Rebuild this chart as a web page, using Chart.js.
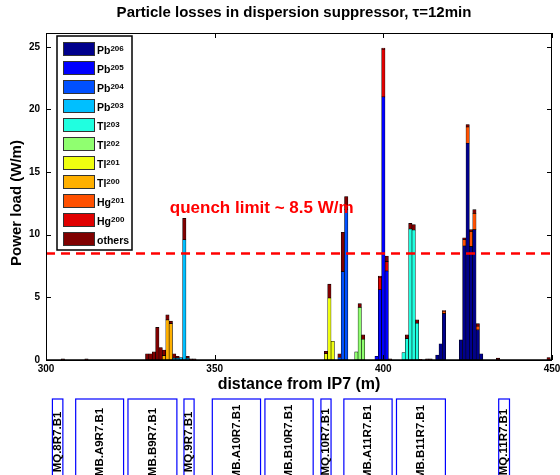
<!DOCTYPE html>
<html>
<head>
<meta charset="utf-8">
<script src="https://cdn.jsdelivr.net/npm/chart.js@4/dist/chart.umd.min.js"></script>
<style>
  html, body { margin: 0; padding: 0; background: #fff; }
  canvas { display: block; }
</style>
</head>
<body>
<canvas id="chart" width="560" height="475"></canvas>
<script>
const FONT = '"Liberation Sans", Arial, Helvetica, sans-serif';

// species (stack order bottom -> top)
const elements = ['Pb', 'Pb', 'Pb', 'Pb', 'Tl', 'Tl', 'Tl', 'Tl', 'Hg', 'Hg', 'others'];
const masses = ['206', '205', '204', '203', '203', '202', '201', '200', '201', '200', ''];
const colors = ['#00008c', '#0000ff', '#0050ff', '#00bfff', '#20ffe0', '#90ff70',
  '#f0ff10', '#ffb000', '#ff5000', '#e00000', '#800000'];

// loss per 1 m bin (W/m), bin centre in m from IP7
const pb206X = [416, 417, 418, 423, 424, 425, 426, 427, 428, 429];
const pb206Y = [0.4, 1.3, 3.7, 1.6, 9.1, 17.3, 9.05, 10.4, 2.4, 0.5];
const pb205X = [398, 399, 400, 401];
const pb205Y = [0.3, 5.6, 21.0, 7.1];
const pb204X = [387, 388, 389];
const pb204Y = [0.2, 7.05, 12.0];
const pb203X = [338, 339, 340, 341, 342];
const pb203Y = [0.15, 0.15, 0.2, 9.6, 0.15];
const tl203X = [406, 407, 408, 409, 410];
const tl203Y = [0.6, 1.7, 10.45, 10.37, 2.93];
const tl202X = [392, 393, 394];
const tl202Y = [0.65, 4.2, 1.65];
const tl201X = [383, 384, 385];
const tl201Y = [0.5, 4.95, 1.5];
const tl200X = [335, 336, 337];
const tl200Y = [0.35, 3.2, 2.9];
const hg201X = [418, 424, 425, 426, 427, 428];
const hg201Y = [0.2, 0.5, 1.3, 1.2, 1.3, 0.3];
const hg200X = [399, 400, 401];
const hg200Y = [1.0, 3.8, 0.75];
const othersX = [305, 312, 330, 331, 332, 333, 334, 335, 336, 337, 338, 339, 341, 342, 343, 344,
  383, 384, 387, 388, 389, 393, 394, 399, 400, 401, 402, 407, 408, 409, 410, 411, 413, 414,
  418, 424, 425, 426, 427, 428, 434, 449];
const othersY = [0.1, 0.1, 0.5, 0.5, 0.65, 2.6, 1.0, 0.45, 0.4, 0.2, 0.35, 0.15, 1.7, 0.15, 0.1, 0.1,
  0.2, 1.1, 0.3, 3.15, 1.05, 0.3, 0.35, 0.1, 0.1, 0.45, 0.1, 0.3, 0.45, 0.43, 0.27, 0.05, 0.1, 0.1,
  0.05, 0.15, 0.2, 0.15, 0.3, 0.2, 0.15, 0.2];

const seriesX = [pb206X, pb205X, pb204X, pb203X, tl203X, tl202X, tl201X, tl200X, hg201X, hg200X, othersX];
const seriesY = [pb206Y, pb205Y, pb204Y, pb203Y, tl203Y, tl202Y, tl201Y, tl200Y, hg201Y, hg200Y, othersY];

const xTicks = [300, 350, 400, 450];
const yTicks = [0, 5, 10, 15, 20, 25];
const quenchLimit = 8.5;

// lattice elements below the axis (m)
const magnetNames = ['MQ.8R7.B1', 'MB.A9R7.B1', 'MB.B9R7.B1', 'MQ.9R7.B1', 'MB.A10R7.B1',
  'MB.B10R7.B1', 'MQ.10R7.B1', 'MB.A11R7.B1', 'MB.B11R7.B1', 'MQ.11R7.B1'];
const magnetStart = [301.9, 308.8, 324.3, 340.9, 349.3, 364.9, 381.5, 388.3, 403.9, 434.2];
const magnetEnd = [305.0, 323.0, 338.8, 343.9, 363.6, 379.2, 384.5, 402.6, 418.4, 437.4];

const datasets = elements.map((el, i) => ({
  label: el + masses[i],
  element: el,
  mass: masses[i],
  data: seriesX[i].map((x, k) => ({ x: x, y: seriesY[i][k] })),
  backgroundColor: colors[i],
  borderColor: '#000',
  borderWidth: 0.6,
  borderSkipped: false,
  barPercentage: 1,
  categoryPercentage: 1
}));

const decor = {
  id: 'decor',
  beforeDraw(chart) {
    const ctx = chart.ctx;
    ctx.save();
    ctx.fillStyle = '#fff';
    ctx.fillRect(0, 0, chart.width, chart.height);
    ctx.restore();
  },
  afterDraw(chart) {
    const { ctx, chartArea: a, scales: { x, y } } = chart;
    ctx.save();

    // quench limit
    const yq = y.getPixelForValue(quenchLimit);
    ctx.strokeStyle = '#ff0000';
    ctx.lineWidth = 2.5;
    ctx.setLineDash([9, 6]);
    ctx.beginPath();
    ctx.moveTo(a.left, yq);
    ctx.lineTo(a.right, yq);
    ctx.stroke();
    ctx.setLineDash([]);

    ctx.fillStyle = '#ff0000';
    ctx.font = 'bold 17px ' + FONT;
    ctx.textBaseline = 'middle';
    ctx.textAlign = 'left';
    ctx.fillText('quench limit ~ 8.5 W/m', x.getPixelForValue(336.7), y.getPixelForValue(12.1));

    // frame + inward ticks
    ctx.strokeStyle = '#000';
    ctx.lineWidth = 1;
    ctx.strokeRect(a.left + 0.5, a.top + 0.5, a.right - a.left - 1, a.bottom - a.top);
    ctx.beginPath();
    xTicks.forEach(v => {
      const px = Math.round(x.getPixelForValue(v)) + 0.5;
      ctx.moveTo(px, a.bottom); ctx.lineTo(px, a.bottom - 5);
      ctx.moveTo(px, a.top); ctx.lineTo(px, a.top + 5);
    });
    yTicks.forEach(v => {
      const py = Math.round(y.getPixelForValue(v)) + 0.5;
      ctx.moveTo(a.left, py); ctx.lineTo(a.left + 5, py);
      ctx.moveTo(a.right, py); ctx.lineTo(a.right - 5, py);
    });
    ctx.stroke();
    ctx.lineWidth = 1.5;
    ctx.beginPath();
    ctx.moveTo(a.left, a.bottom);
    ctx.lineTo(a.right, a.bottom);
    ctx.stroke();

    // legend
    const lx = 57, ly = 36, pitch = 19;
    ctx.fillStyle = '#fff';
    ctx.fillRect(lx, ly, 75, 214);
    ctx.lineWidth = 1.5;
    ctx.strokeStyle = '#000';
    ctx.strokeRect(lx, ly, 75, 214);
    ctx.textBaseline = 'alphabetic';
    chart.data.datasets.forEach((ds, i) => {
      const yy = ly + 6 + i * pitch;
      ctx.fillStyle = ds.backgroundColor;
      ctx.fillRect(lx + 6, yy, 31, 13);
      ctx.lineWidth = 1;
      ctx.strokeStyle = '#333';
      ctx.strokeRect(lx + 6.5, yy + 0.5, 31, 13);
      ctx.fillStyle = '#000';
      ctx.font = 'bold 10.5px ' + FONT;
      ctx.fillText(ds.element, lx + 40, yy + 12);
      if (ds.mass) {
        const w = ctx.measureText(ds.element).width;
        ctx.font = 'bold 8px ' + FONT;
        ctx.fillText(ds.mass, lx + 40 + w, yy + 8.5);
      }
    });

    // titles
    ctx.fillStyle = '#000';
    ctx.font = 'bold 15px ' + FONT;
    ctx.textAlign = 'center';
    ctx.textBaseline = 'middle';
    ctx.fillText('Particle losses in dispersion suppressor, \u03c4=12min', 294, 13);

    ctx.save();
    ctx.translate(17, 203);
    ctx.rotate(-Math.PI / 2);
    ctx.font = 'bold 15px ' + FONT;
    ctx.fillText('Power load (W/m)', 0, 0);
    ctx.restore();

    // lattice elements
    ctx.strokeStyle = '#0000ff';
    ctx.lineWidth = 1.2;
    magnetNames.forEach((name, i) => {
      const x0 = x.getPixelForValue(magnetStart[i]);
      const x1 = x.getPixelForValue(magnetEnd[i]);
      ctx.strokeRect(x0, 399, x1 - x0, 100);
      ctx.save();
      ctx.translate((x0 + x1) / 2, 442);
      ctx.rotate(-Math.PI / 2);
      ctx.fillStyle = '#000';
      ctx.font = 'bold 11.5px ' + FONT;
      ctx.textAlign = 'center';
      ctx.textBaseline = 'middle';
      ctx.fillText(name, 0, 0);
      ctx.restore();
    });

    ctx.restore();
  }
};

new Chart(document.getElementById('chart'), {
  type: 'bar',
  data: { datasets: datasets },
  options: {
    responsive: false,
    animation: false,
    events: [],
    layout: { padding: { top: 33, right: 8, bottom: 81, left: 0 } },
    plugins: { legend: { display: false }, title: { display: false }, tooltip: { enabled: false } },
    scales: {
      x: {
        type: 'linear',
        stacked: true,
        offset: false,
        min: 300,
        max: 450,
        afterBuildTicks: s => { s.ticks = xTicks.map(v => ({ value: v })); },
        afterFit: s => { s.height = 34; s.paddingLeft = 0; s.paddingRight = 0; },
        grid: { display: false, drawTicks: false },
        border: { display: false },
        ticks: { color: '#000', font: { family: FONT, size: 10, weight: 'bold' }, padding: 3, maxRotation: 0, autoSkip: false },
        title: { display: true, text: 'distance from IP7 (m)', color: '#000',
          font: { family: FONT, size: 16, weight: 'bold' }, padding: { top: 0, bottom: 0 } }
      },
      y: {
        stacked: true,
        min: 0,
        max: 26.1,
        afterBuildTicks: s => { s.ticks = yTicks.map(v => ({ value: v })); },
        afterFit: s => { s.width = 46; s.paddingTop = 0; s.paddingBottom = 0; },
        grid: { display: false, drawTicks: false },
        border: { display: false },
        ticks: { color: '#000', font: { family: FONT, size: 10, weight: 'bold' }, padding: 6 }
      }
    }
  },
  plugins: [decor]
});
</script>
</body>
</html>
